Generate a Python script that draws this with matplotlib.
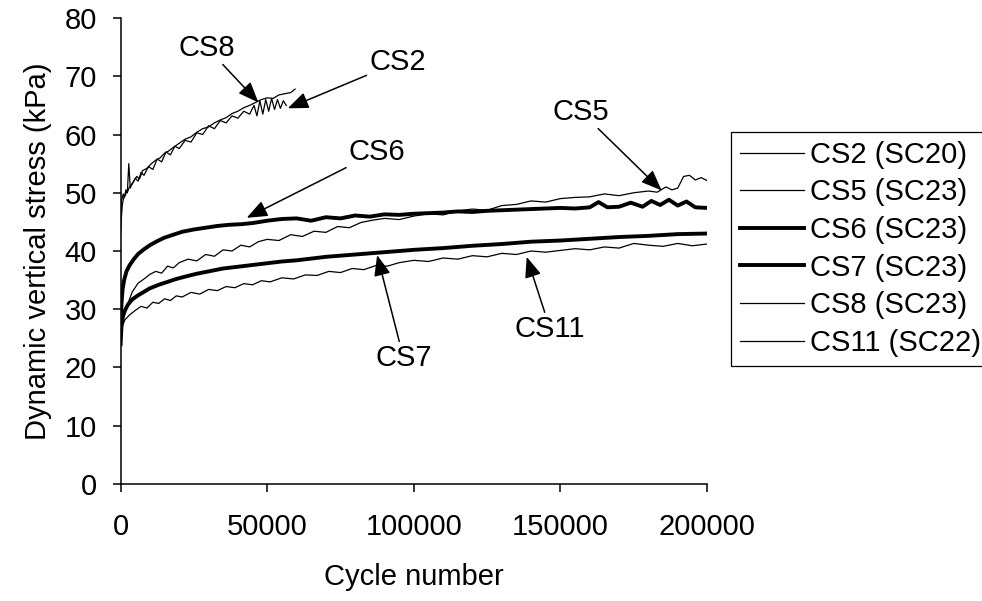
import matplotlib.pyplot as plt
import numpy as np

plt.rcParams['font.family'] = ['Liberation Sans', 'DejaVu Sans']

# ---- data ----
cs2_x = [0, 300, 600, 1000, 1500, 2000, 2500, 3000, 4000, 5000, 6000, 7000, 8000, 9500, 11000,
         12500, 14000, 15500, 17000, 18500, 20000, 22000, 24000, 26000, 28000, 30000, 32000, 34000,
         36000, 38000, 40000, 42000, 44000, 45500, 46500, 47500, 48500, 49500, 50500, 51500, 52500,
         53500, 54500, 55500, 56500]
cs2_y = [43, 46, 48, 49, 49.5, 50, 50.3, 51, 51.5, 52.5, 52, 53.5, 53, 54.5, 54,
         55.8, 55.3, 57, 56.5, 58, 57.6, 59, 58.7, 60.3, 60, 61.5, 61, 62.4,
         62, 63.2, 62.8, 64, 63.5, 65, 63.2, 65.8, 63.5, 66, 64, 66.2, 64.3,
         66, 64.5, 65.8, 65]

cs5_x = [0, 1000, 2500, 4000, 6000, 8000, 10000, 12000, 14000, 16000, 18000, 20000, 23000, 26000,
         29000, 32000, 35000, 38000, 41000, 44000, 47000, 50000, 54000, 58000, 62000, 66000, 70000,
         74000, 78000, 82000, 86000, 90000, 95000, 100000, 105000, 110000, 115000, 120000, 125000,
         130000, 135000, 140000, 145000, 150000, 155000, 160000, 165000, 170000, 175000, 180000,
         183000, 186000, 188000, 190000, 192000, 194000, 196000, 198000, 200000]
cs5_y = [26, 29, 31, 33, 34.5, 35.2, 36, 36.5, 36.2, 37.4, 37.1, 38, 38.6, 38.3,
         39.4, 39.1, 40.2, 40, 41, 40.7, 41.6, 42, 41.8, 42.8, 42.5, 43.4, 43.2,
         44.2, 44, 44.9, 45.3, 45.6, 45.4, 46, 46.4, 46.2, 46.9, 47.2, 47,
         47.8, 48, 48.6, 48.4, 49, 49.2, 49.3, 49.8, 49.5, 50, 50.3,
         50.1, 51, 50.5, 50.8, 52.8, 53, 52.2, 52.6, 52.1]

cs6_x = [0, 300, 700, 1200, 2000, 3000, 4500, 6000, 8000, 10000, 12500, 15000, 18000, 21000, 25000,
         29000, 33000, 37000, 41000, 45000, 50000, 55000, 60000, 65000, 70000, 75000, 80000, 85000,
         90000, 95000, 100000, 105000, 110000, 115000, 120000, 125000, 130000, 135000, 140000,
         145000, 150000, 155000, 160000, 163000, 166000, 170000, 174000, 178000, 181000, 184000,
         187000, 190000, 193000, 196000, 200000]
cs6_y = [26, 31, 33.5, 35, 36.5, 37.5, 38.6, 39.5, 40.3, 41, 41.7, 42.3, 42.8, 43.3, 43.7,
         44, 44.3, 44.5, 44.6, 44.8, 45.2, 45.5, 45.6, 45.2, 45.8, 45.6, 46.1, 45.9,
         46.3, 46.2, 46.4, 46.5, 46.6, 46.8, 46.7, 46.9, 47, 47.1, 47.2,
         47.3, 47.4, 47.3, 47.5, 48.4, 47.5, 47.6, 48.3, 47.6, 48.6, 47.9,
         48.8, 47.8, 48.5, 47.5, 47.4]

cs7_x = [0, 300, 800, 1500, 2500, 4000, 6000, 8000, 10000, 13000, 16000, 19000, 22000, 26000, 30000,
         35000, 40000, 45000, 50000, 55000, 60000, 65000, 70000, 75000, 80000, 85000, 90000, 95000,
         100000, 110000, 120000, 130000, 140000, 150000, 160000, 170000, 180000, 190000, 200000]
cs7_y = [24, 27, 28.8, 29.8, 30.8, 31.7, 32.4, 33, 33.6, 34.2, 34.7, 35.2, 35.6, 36.1, 36.5,
         37, 37.3, 37.6, 37.9, 38.2, 38.4, 38.7, 39, 39.2, 39.4, 39.6, 39.8, 40,
         40.2, 40.5, 40.9, 41.2, 41.6, 41.8, 42.1, 42.4, 42.6, 42.9, 43]

cs8_x = [0, 200, 500, 900, 1300, 1800, 2300, 2800, 3300, 3800, 4500, 5500, 6500, 7500, 9000, 10500,
         12000, 13500, 15000, 16500, 18000, 20000, 22000, 24000, 26000, 28000, 30000, 32000, 34000,
         36000, 38000, 40000, 42000, 44000, 46000, 48000, 50000, 52000, 54000, 56000, 58000, 59500]
cs8_y = [45, 48.5, 49, 49.8, 49.2, 50.5, 50, 55, 50.8, 51.5, 52, 52.8, 52.4, 53.8, 54.2, 55,
         55.6, 56, 56.8, 57.2, 57.8, 58.5, 59.2, 59.6, 60.4, 61, 61.3, 62, 62.5,
         62.9, 63.6, 64, 64.6, 65, 65.5, 66, 66.3, 66.2, 66.8, 67, 67.2, 67.8]

cs11_x = [0, 500, 1500, 3000, 5000, 7000, 9000, 11000, 13000, 15000, 17000, 19000, 21000, 24000,
          27000, 30000, 33000, 36000, 39000, 42000, 45000, 48000, 51000, 55000, 59000, 63000, 67000,
          71000, 75000, 79000, 83000, 87000, 91000, 95000, 100000, 105000, 110000, 115000, 120000,
          125000, 130000, 135000, 140000, 145000, 150000, 155000, 160000, 165000, 170000, 175000,
          180000, 185000, 190000, 195000, 200000]
cs11_y = [25, 27, 28.2, 29, 29.8, 30.5, 30.2, 31.2, 31, 31.8, 31.5, 32.3, 32.1, 32.9,
          32.6, 33.4, 33.2, 33.9, 33.7, 34.4, 34.2, 34.9, 34.7, 35.4, 35.2, 35.9, 35.8,
          36.5, 36.3, 37, 36.8, 37.5, 37.4, 38, 38.4, 38.2, 38.8, 38.6, 39.2,
          39, 39.6, 39.4, 40, 39.8, 40.1, 40.4, 40.2, 40.7, 40.5, 41.3,
          41, 40.8, 41.3, 40.9, 41.2]

# annotations: label, arrow head (x, y), text position (x, y)
notes = [('CS8', (47000, 65.5), (29500, 74.9)),
         ('CS2', (57000, 64.5), (94500, 72.4)),
         ('CS6', (43000, 45.7), (87500, 57.0)),
         ('CS5', (184500, 50.4), (157000, 63.9)),
         ('CS7', (87500, 39.3), (96500, 21.6)),
         ('CS11', (138500, 39.0), (146500, 26.6))]

fig = plt.figure(figsize=(9.82, 6.01), dpi=100)
ax = fig.add_axes([0.1228, 0.1947, 0.5972, 0.7753])

thin = 0.9
thick = 2.8
ax.plot(cs2_x, cs2_y, color='k', lw=thin, label='CS2 (SC20)')
ax.plot(cs5_x, cs5_y, color='k', lw=thin, label='CS5 (SC23)')
ax.plot(cs6_x, cs6_y, color='k', lw=thick, label='CS6 (SC23)')
ax.plot(cs7_x, cs7_y, color='k', lw=thick, label='CS7 (SC23)')
ax.plot(cs8_x, cs8_y, color='k', lw=thin, label='CS8 (SC23)')
ax.plot(cs11_x, cs11_y, color='k', lw=thin, label='CS11 (SC22)')

for name, head, txt in notes:
    ax.annotate(name, xy=head, xytext=txt, ha='center', va='center', fontsize=21,
                arrowprops=dict(arrowstyle='-|>,head_length=0.6,head_width=0.24',
                                color='k', lw=1.1, shrinkA=0, shrinkB=0))

ax.set_xlim(0, 200000)
ax.set_ylim(0, 80)
ax.set_xticks([0, 50000, 100000, 150000, 200000])
ax.set_yticks(np.arange(0, 81, 10))
ax.spines['right'].set_visible(False)
ax.spines['top'].set_visible(False)
for s in ['left', 'bottom']:
    ax.spines[s].set_linewidth(1.1)
ax.tick_params(direction='out', length=6, width=1.1, labelsize=21)
ax.tick_params(axis='x', pad=15)
ax.tick_params(axis='y', pad=11)

ax.set_xlabel('Cycle number', fontsize=21, labelpad=16)
ax.set_ylabel('Dynamic vertical stress (kPa)', fontsize=21, labelpad=9)

leg = fig.legend(loc='upper left', bbox_to_anchor=(731 / 982, 1 - 132 / 601),
                 fontsize=21, frameon=True, fancybox=False, edgecolor='black',
                 framealpha=1, borderaxespad=0, borderpad=0.3, handlelength=2.2,
                 handletextpad=0.2, labelspacing=0.33)
leg.get_frame().set_linewidth(0.9)

fig.savefig('out.png', dpi=100)
